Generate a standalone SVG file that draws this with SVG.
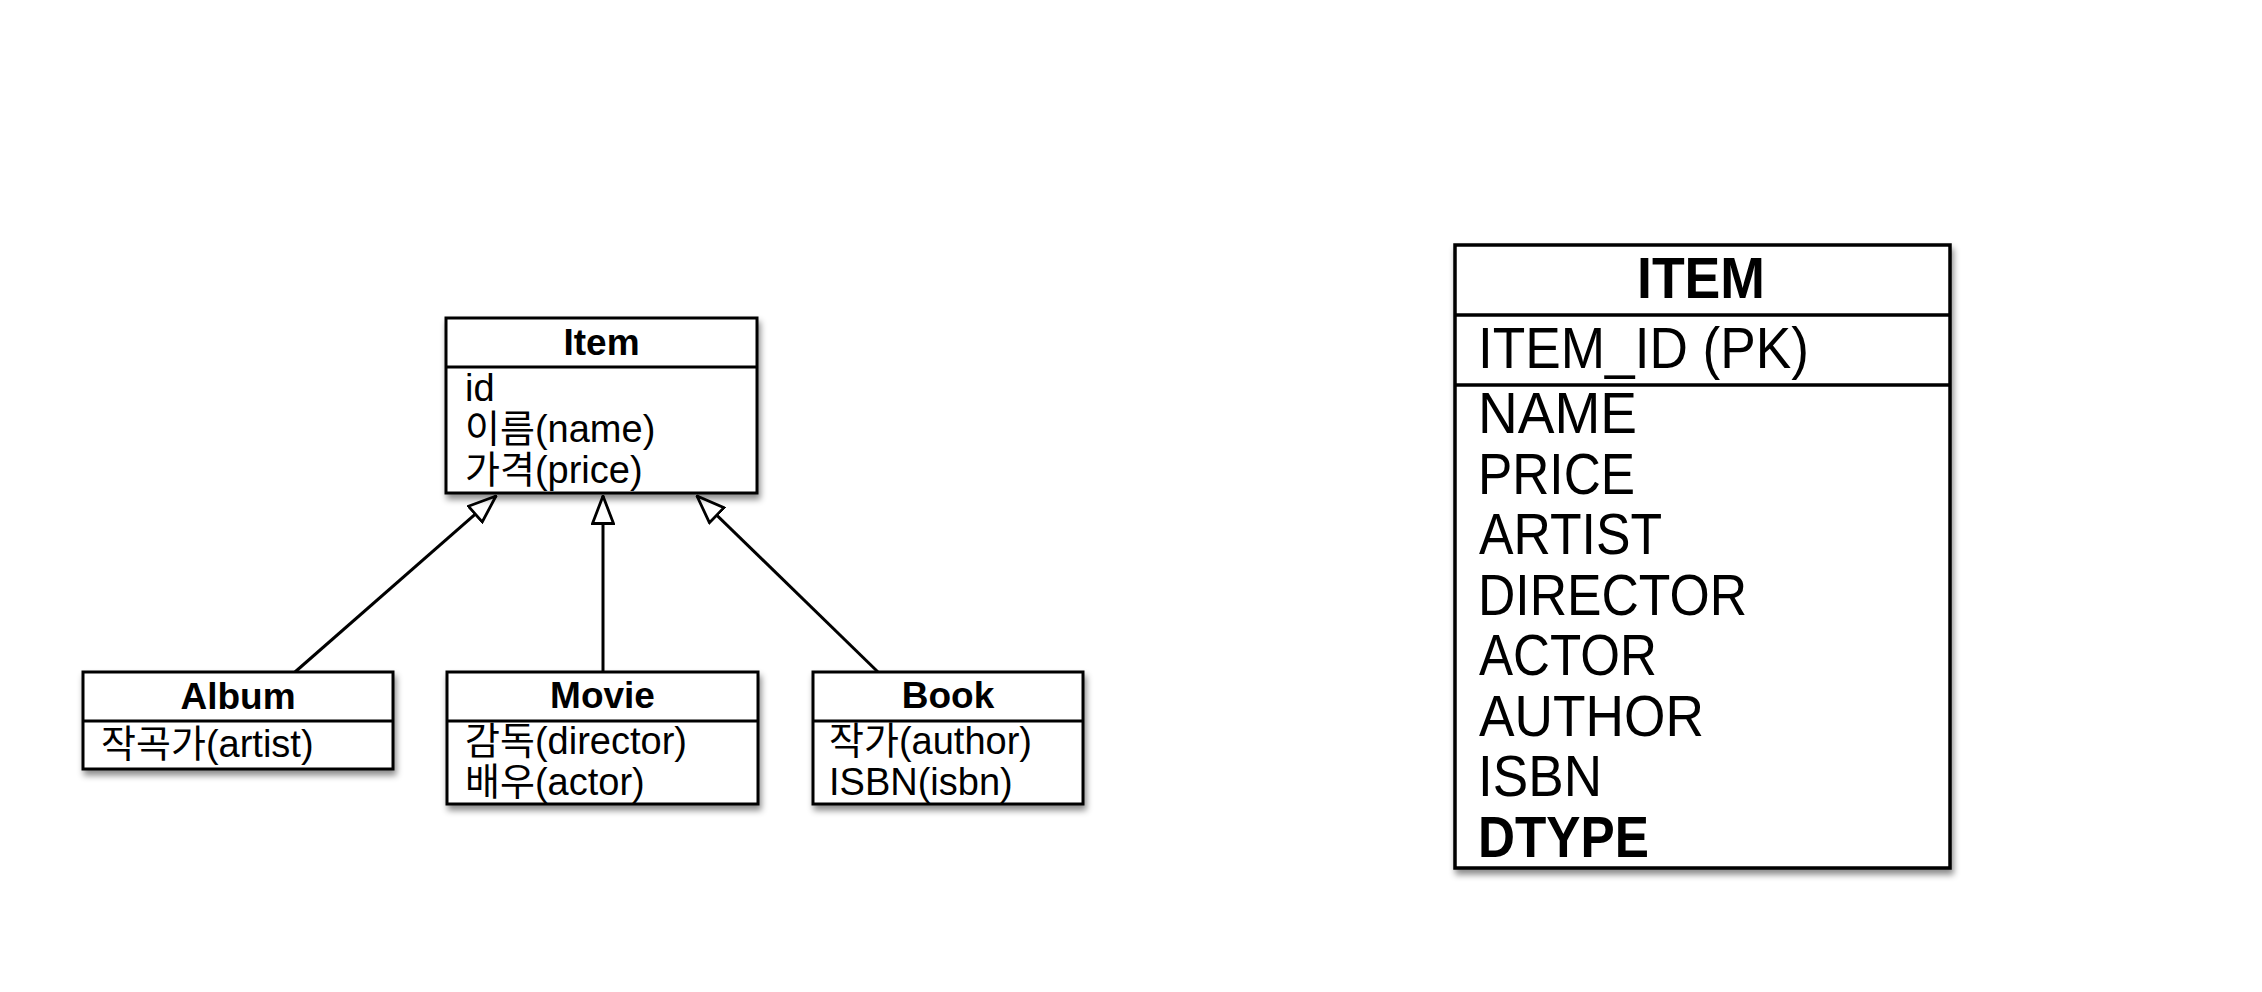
<svg xmlns="http://www.w3.org/2000/svg" width="2262" height="992" viewBox="0 0 2262 992">
  <style>
    .box { fill: #ffffff; stroke: #000000; stroke-width: 3; filter: url(#shadow); }
    .tbox { fill: #ffffff; stroke: #000000; stroke-width: 3.5; filter: url(#shadow); }
    .div { stroke: #000000; stroke-width: 3; }
    .tdiv { stroke: #000000; stroke-width: 3.5; }
    .title { font-family: "Liberation Sans", "Noto Sans CJK KR", sans-serif; font-weight: bold; font-size: 37px; fill: #000; text-anchor: middle; }
    .attr { font-family: "Liberation Sans", "Noto Sans CJK KR", sans-serif; font-size: 38px; fill: #000; }
    .ttitle { font-family: "Liberation Sans", sans-serif; font-weight: bold; font-size: 57px; fill: #000; text-anchor: middle; }
    .tcol { font-family: "Liberation Sans", sans-serif; font-size: 57px; fill: #000; }
    .tbold { font-family: "Liberation Sans", sans-serif; font-weight: bold; font-size: 57px; fill: #000; }
    .conn { stroke: #000000; stroke-width: 3; fill: none; marker-end: url(#gen); }
  </style>
  <defs>
    <filter id="shadow" x="-10%" y="-10%" width="125%" height="130%">
      <feDropShadow dx="2" dy="5" stdDeviation="3" flood-color="#000000" flood-opacity="0.45"/>
    </filter>
    <marker id="gen" viewBox="0 0 30 24" refX="29" refY="12" markerWidth="30" markerHeight="24" markerUnits="userSpaceOnUse" orient="auto">
      <path d="M1.5,1.5 L29,12 L1.5,22.5 Z" fill="#ffffff" stroke="#000000" stroke-width="2.8" stroke-linejoin="miter"/>
    </marker>
  </defs>
  <rect x="0" y="0" width="2262" height="992" fill="#ffffff"/>

  <g id="connectors">
    <line class="conn" x1="295" y1="672" x2="496" y2="496"/>
    <line class="conn" x1="603" y1="672" x2="603" y2="496"/>
    <line class="conn" x1="878" y1="672" x2="697" y2="496"/>
  </g>

  <g id="item">
    <rect class="box" x="446" y="318" width="311" height="175"/>
    <line class="div" x1="446" y1="367" x2="757" y2="367"/>
    <text class="title" x="601.5" y="355">Item</text>
    <text class="attr" x="465" y="401">id</text>
    <text class="attr" x="465" y="442">이름(name)</text>
    <text class="attr" x="465" y="483">가격(price)</text>
  </g>

  <g id="album">
    <rect class="box" x="83" y="672" width="310" height="97"/>
    <line class="div" x1="83" y1="721" x2="393" y2="721"/>
    <text class="title" x="238" y="709">Album</text>
    <text class="attr" x="101" y="757">작곡가(artist)</text>
  </g>

  <g id="movie">
    <rect class="box" x="447" y="672" width="311" height="132"/>
    <line class="div" x1="447" y1="721" x2="758" y2="721"/>
    <text class="title" x="602.5" y="708">Movie</text>
    <text class="attr" x="465" y="754">감독(director)</text>
    <text class="attr" x="465" y="795">배우(actor)</text>
  </g>

  <g id="book">
    <rect class="box" x="813" y="672" width="270" height="132"/>
    <line class="div" x1="813" y1="721" x2="1083" y2="721"/>
    <text class="title" x="948" y="708">Book</text>
    <text class="attr" x="829" y="754">작가(author)</text>
    <text class="attr" x="829" y="795">ISBN(isbn)</text>
  </g>

  <g id="item-table">
    <rect class="tbox" x="1455" y="245" width="495" height="623"/>
    <line class="tdiv" x1="1455" y1="315" x2="1950" y2="315"/>
    <line class="tdiv" x1="1455" y1="385" x2="1950" y2="385"/>
    <text class="ttitle" x="1701" y="298" textLength="128" lengthAdjust="spacingAndGlyphs">ITEM</text>
    <text class="tcol" x="1478" y="368" textLength="331" lengthAdjust="spacingAndGlyphs">ITEM_ID (PK)</text>
    <text class="tcol" x="1478" y="433" textLength="159" lengthAdjust="spacingAndGlyphs">NAME</text>
    <text class="tcol" x="1478" y="493.5" textLength="157" lengthAdjust="spacingAndGlyphs">PRICE</text>
    <text class="tcol" x="1479" y="554" textLength="183" lengthAdjust="spacingAndGlyphs">ARTIST</text>
    <text class="tcol" x="1478" y="614.5" textLength="269" lengthAdjust="spacingAndGlyphs">DIRECTOR</text>
    <text class="tcol" x="1479" y="675" textLength="178" lengthAdjust="spacingAndGlyphs">ACTOR</text>
    <text class="tcol" x="1479" y="735.5" textLength="225" lengthAdjust="spacingAndGlyphs">AUTHOR</text>
    <text class="tcol" x="1478" y="796" textLength="124" lengthAdjust="spacingAndGlyphs">ISBN</text>
    <text class="tbold" x="1478" y="856.5" textLength="171" lengthAdjust="spacingAndGlyphs">DTYPE</text>
  </g>
</svg>
